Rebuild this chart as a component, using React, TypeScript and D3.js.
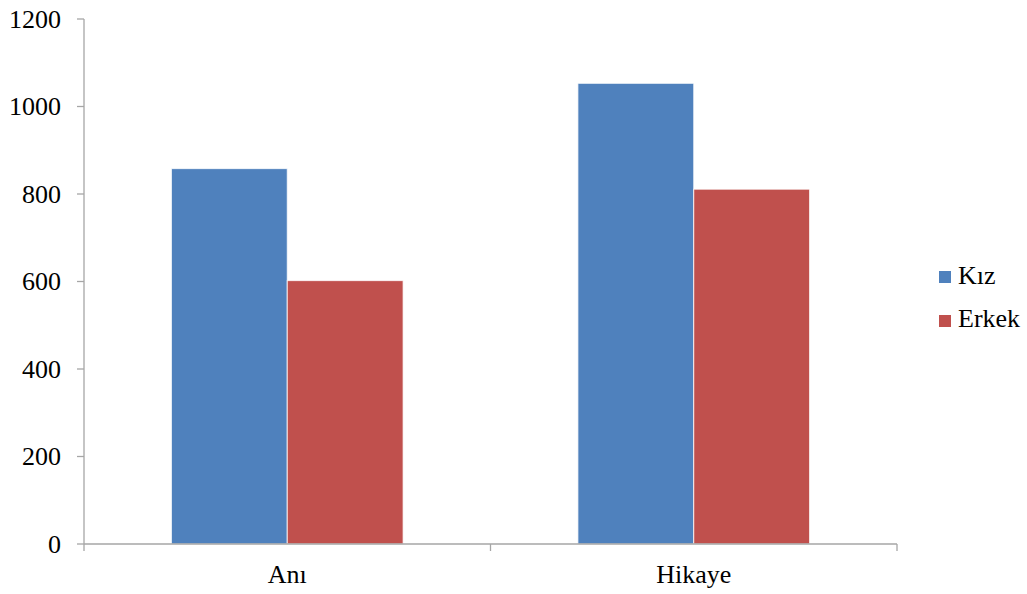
import React from "react";
import * as d3 from "d3";

const categories = ["Anı", "Hikaye"];
const seriesNames = ["Kız", "Erkek"];
const kizValues = [858, 1053];
const erkekValues = [602, 811];
const yTicks = [0, 200, 400, 600, 800, 1000, 1200];
const colors = ["#4F81BD", "#C0504D"];

export default function App() {
  const W = 1027, H = 594;
  const left = 84, right = 897, top = 19, bottom = 544;
  const fontStyle = { fontFamily: "Liberation Serif, Times New Roman, Times, serif", fontSize: "26px" };
  const y = d3.scaleLinear().domain([0, 1200]).range([bottom, top]);
  const x0 = d3.scaleBand<string>().domain(categories).range([left, right]).paddingInner(0).paddingOuter(0);
  const bw = x0.bandwidth();
  const groupW = bw * 0.57;
  const x1 = d3.scaleBand<string>().domain(seriesNames).range([0, groupW]).padding(0);
  const values = [kizValues, erkekValues];
  const axisColor = "#a6a6a6";
  return (
    <svg width={W} height={H} style={{ position: "absolute", left: 0, top: 0, background: "#fff" }}>
      {categories.map((c, ci) =>
        seriesNames.map((s, si) => {
          const v = values[si][ci];
          const bx = (x0(c) as number) + (bw - groupW) / 2 + (x1(s) as number);
          return (
            <rect key={c + s} x={bx} y={y(v)} width={x1.bandwidth()} height={y(0) - y(v)}
              fill={colors[si]} stroke="#ffffff" strokeWidth={1} strokeOpacity={0.8} />
          );
        })
      )}
      <line x1={left} x2={left} y1={top} y2={bottom} stroke={axisColor} strokeWidth={1.3} />
      {yTicks.map((t) => (
        <g key={t}>
          <line x1={left - 7} x2={left} y1={y(t)} y2={y(t)} stroke={axisColor} strokeWidth={1.3} />
          <text x={61} y={y(t) + 8.5} textAnchor="end" style={fontStyle} fill="#000">{t}</text>
        </g>
      ))}
      <line x1={left} x2={right} y1={bottom} y2={bottom} stroke={axisColor} strokeWidth={1.3} />
      {[0, 1, 2].map((i) => {
        const tx = left + i * bw;
        return <line key={i} x1={tx} x2={tx} y1={bottom} y2={bottom + 7} stroke={axisColor} strokeWidth={1.3} />;
      })}
      {categories.map((c) => (
        <text key={c} x={(x0(c) as number) + bw / 2} y={583} textAnchor="middle" style={fontStyle} fill="#000">{c}</text>
      ))}
      {seriesNames.map((s, i) => (
        <g key={s}>
          <rect x={939} y={271 + i * 44} width={12} height={12} fill={colors[i]} />
          <text x={958} y={284 + i * 43} style={fontStyle} fill="#000">{s}</text>
        </g>
      ))}
    </svg>
  );
}
